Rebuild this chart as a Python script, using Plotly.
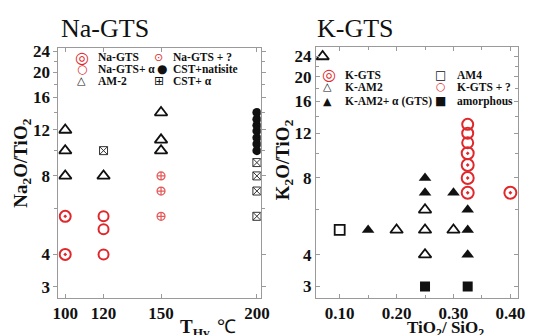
import math
import plotly.graph_objects as go

W, H = 539, 335

# ---------------- data: left panel (Na-GTS) ----------------
na_gts_x = [100, 100]
na_gts_y = [4, 5.6]
na_alpha_x = [120, 120, 120]
na_alpha_y = [4, 5.0, 5.6]
na_q_x = [150, 150, 150]
na_q_y = [5.6, 7, 8]
am2_x = [100, 100, 100, 120, 150, 150, 150]
am2_y = [8, 10, 12, 8, 10, 11, 14]
cst_nat_x = [200, 200, 200, 200, 200, 200, 200]
cst_nat_y = [10, 10.6, 11.2, 11.9, 12.5, 13.2, 14]
cst_alpha_x = [120, 200, 200, 200, 200]
cst_alpha_y = [10, 5.6, 7, 8, 9]

left_xticks = [100, 120, 150, 200]
left_yticks = [3, 4, 8, 12, 16, 20, 24]
left_yminor = [6, 10, 14, 18, 22]

# ---------------- data: right panel (K-GTS) ----------------
kgts_x = [0.325, 0.325, 0.325, 0.325, 0.40]
kgts_y = [7, 8, 9, 10, 7]
kam2_x = [0.07, 0.20, 0.25, 0.25, 0.25, 0.30]
kam2_y = [24, 5, 4, 5, 6, 5]
kam2a_x = [0.15, 0.25, 0.25, 0.30, 0.325, 0.325, 0.325]
kam2a_y = [5, 7, 8, 7, 4, 5, 6]
am4_x = [0.10]
am4_y = [5]
kq_x = [0.325, 0.325, 0.325]
kq_y = [11, 12, 13]
amorph_x = [0.25, 0.325]
amorph_y = [3, 3]

right_xticks = [0.10, 0.20, 0.30, 0.40]
right_xticktext = ["0.10", "0.20", "0.30", "0.40"]
right_xminor = [0.15, 0.25, 0.35]
right_yticks = [3, 4, 8, 12, 16, 20, 24]
right_yminor = [6, 10, 14, 18, 22]

RED = "#e0282c"
BLK = "#111111"
SERIF = "Liberation Serif"

fig = go.Figure()


def add(x, y, xa, ya, symbol, size, color, lw, name):
    fig.add_trace(go.Scatter(
        x=x, y=y, xaxis=xa, yaxis=ya, mode="markers", name=name,
        showlegend=False,
        marker=dict(symbol=symbol, size=size, color=color,
                    line=dict(color=color, width=lw)),
    ))


# left
add(na_gts_x, na_gts_y, "x", "y", "circle-open-dot", 11, RED, 2, "Na-GTS")
add(na_alpha_x, na_alpha_y, "x", "y", "circle-open", 10, RED, 2, "Na-GTS+ α")
add(na_q_x, na_q_y, "x", "y", "circle-cross-open", 8, "#e45a5a", 1.2, "Na-GTS + ?")
add(am2_x, am2_y, "x", "y", "triangle-up-open", 11, BLK, 1.8, "AM-2")
add(cst_nat_x, cst_nat_y, "x", "y", "circle", 9, BLK, 0, "CST+natisite")
add(cst_alpha_x, cst_alpha_y, "x", "y", "square-x-open", 8, "#333333", 1, "CST+ α")
# right
add(kgts_x, kgts_y, "x2", "y2", "circle-open-dot", 12, RED, 2, "K-GTS")
add(kam2_x, kam2_y, "x2", "y2", "triangle-up-open", 11, BLK, 1.8, "K-AM2")
add(kam2a_x, kam2a_y, "x2", "y2", "triangle-up", 11, BLK, 0, "K-AM2+ α (GTS)")
add(am4_x, am4_y, "x2", "y2", "square-open", 10, BLK, 1.8, "AM4")
add(kq_x, kq_y, "x2", "y2", "circle-open", 11, RED, 2, "K-GTS + ?")
add(amorph_x, amorph_y, "x2", "y2", "square", 10, BLK, 0, "amorphous")


def px(v):
    return v / W


def py(v):
    return 1 - v / H


tickfont = dict(family=SERIF, size=17, color="#111", weight="bold")
axis_common = dict(showline=True, linecolor="#9a9a9a", linewidth=1.2, mirror="ticks",
                   showgrid=False, zeroline=False, tickfont=tickfont,
                   ticklen=4, tickcolor="#9a9a9a")

fig.update_layout(
    width=W, height=H, margin=dict(l=0, r=0, t=0, b=0),
    paper_bgcolor="white", plot_bgcolor="white", showlegend=False,
    xaxis=dict(domain=[px(54), px(262)], range=[96.5, 202], tickvals=left_xticks,
               anchor="y", ticks="inside", ticklabelstandoff=0, **axis_common),
    yaxis=dict(domain=[py(297), py(43)], type="log",
               range=[math.log10(2.73), math.log10(24.7)], tickvals=left_yticks,
               ticktext=[str(v) for v in left_yticks], anchor="x", ticks="outside",
               minor=dict(tickvals=left_yminor, ticks="outside", ticklen=3, tickcolor="#9a9a9a"),
               **axis_common),
    xaxis2=dict(domain=[px(319), px(527)], range=[0.0586, 0.414], tickvals=right_xticks,
                ticktext=right_xticktext, anchor="y2", ticks="inside", ticklabelstandoff=0,
                minor=dict(tickvals=right_xminor, ticks="inside", ticklen=3, tickcolor="#9a9a9a"),
                **axis_common),
    yaxis2=dict(domain=[py(297), py(42)], type="log",
                range=[math.log10(2.71), math.log10(26.1)], tickvals=right_yticks,
                ticktext=[str(v) for v in right_yticks], anchor="x2", ticks="inside",
                minor=dict(tickvals=right_yminor, ticks="inside", ticklen=3, tickcolor="#9a9a9a"),
                **axis_common),
)

ann = []


def text(x, y, s, size, xanchor="center", angle=0, family=SERIF, color="#111", bold=False):
    ann.append(dict(x=px(x), y=py(y), xref="paper", yref="paper", text=s, showarrow=False,
                    xanchor=xanchor, yanchor="middle", textangle=angle,
                    font=dict(family=family, size=size, color=color,
                              weight="bold" if bold else "normal")))


# panel titles
text(102, 23, "Na-GTS", 26)
text(359, 23, "K-GTS", 26)
# axis titles
text(17, 160, "Na<sub>2</sub>O/TiO<sub>2</sub>", 19, angle=-90, bold=True)
text(286, 157, "K<sub>2</sub>O/TiO<sub>2</sub>", 19, angle=-90, bold=True)
text(208, 328, "<b>T<sub>Hv,</sub></b> ℃", 19)
text(452, 329, "TiO<sub>2</sub>/ SiO<sub>2</sub>", 17, bold=True)

GLY = "DejaVu Sans"
# left legend
leg_left = [
    (78, 52, "◎", 16, RED, 93, "Na-GTS"),
    (157, 52, "⊙", 11, RED, 170, "Na-GTS + ?"),
    (78, 64, "○", 12, RED, 93, "Na-GTS+ α"),
    (160, 64, "●", 12, BLK, 170, "CST+natisite"),
    (78, 76, "△", 11, BLK, 93, "AM-2"),
    (157, 76, "⊞", 12, BLK, 170, "CST+ α"),
]
for gx, gy, g, gs, gc, tx, t in leg_left:
    text(gx, gy, g, gs, family=GLY, color=gc)
    text(tx, gy, t, 11.5, xanchor="left", bold=True)

leg_right = [
    (332, 70, "◎", 16, RED, 347, "K-GTS"),
    (447, 70, "□", 12, BLK, 462, "AM4"),
    (331, 82, "△", 11, BLK, 347, "K-AM2"),
    (447, 82, "○", 11, RED, 462, "K-GTS + ?"),
    (331, 97, "▲", 11, BLK, 347, "K-AM2+ α (GTS)"),
    (447, 97, "■", 12, BLK, 462, "amorphous"),
]
for gx, gy, g, gs, gc, tx, t in leg_right:
    text(gx, gy, g, gs, family=GLY, color=gc)
    text(tx, gy, t, 11.5, xanchor="left", bold=True)

fig.update_layout(annotations=ann)

fig.write_html("out.html")
